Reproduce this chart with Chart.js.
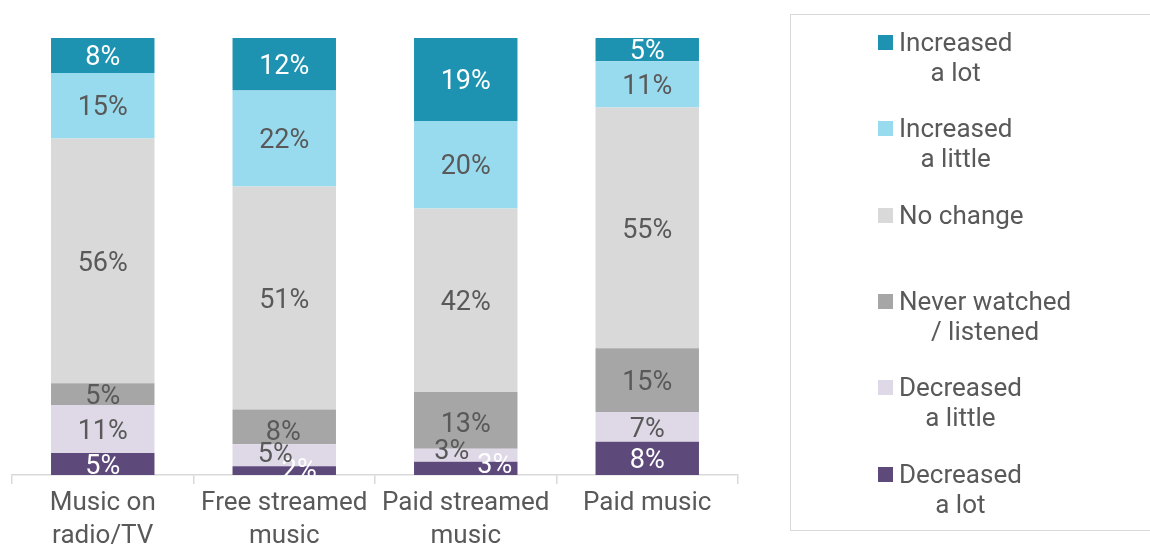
<!DOCTYPE html>
<html>
<head>
<meta charset="utf-8">
<script src="https://cdn.jsdelivr.net/npm/chart.js@4.4.1/dist/chart.umd.min.js"></script>
<style>
    html, body { margin: 0; padding: 0; background: #fff; }
    #wrap { position: relative; width: 1150px; height: 547px; overflow: hidden; }
    #chart { position: absolute; left: 0; top: 0; }
    #legend {
        position: absolute; left: 790px; top: 14px; width: 420px; height: 517px;
        border: 1.5px solid #d9d9d9; box-sizing: border-box;
        font-family: Roboto, sans-serif; font-size: 26px; color: #595959;
    }
    .item { position: absolute; left: 87px; height: 60px; }
    .swatch { position: absolute; left: 0; top: 8px; width: 15px; height: 15px; }
    .text { position: absolute; left: 21px; top: 0; line-height: 30px; text-align: center; white-space: nowrap; }
</style>
</head>
<body>
<div id="wrap">
    <canvas id="chart" width="1150" height="556"></canvas>
    <div id="legend"></div>
</div>
<script>
// ==================== DATA ====================
const categories = [['Music on', 'radio/TV'], ['Free streamed', 'music'], ['Paid streamed', 'music'], 'Paid music'];

// stacked bottom to top
const decreasedLot    = [5, 2, 3, 7.6];
const decreasedLittle = [11, 5, 3, 6.8];
const neverWatched    = [5, 8, 13, 14.6];
const noChange        = [56, 51, 42, 55.1];
const increasedLittle = [15, 22, 20, 10.6];
const increasedLot    = [8, 12, 19, 5.3];

const seriesNames = [
    ['Decreased', 'a lot'],
    ['Decreased', 'a little'],
    ['Never watched', '/ listened'],
    ['No change'],
    ['Increased', 'a little'],
    ['Increased', 'a lot']
];

// ==================== STYLE ====================
const FONT = 'Roboto, sans-serif';
const TEXT_GRAY = '#595959';
const colors = ['#5d4a7b', '#dfd8e7', '#a6a6a6', '#d9d9d9', '#99dbee', '#1e93b1'];
const labelColors = ['#ffffff', TEXT_GRAY, TEXT_GRAY, TEXT_GRAY, TEXT_GRAY, '#ffffff'];

// nudges for labels that sit on thin segments [dataset][bar] = [dx, dy]
const labelShifts = {
    0: { 1: [15, -2], 2: [29, -5] },
    1: { 1: [-9, -3], 2: [-14, -6] },
    2: { 1: [-1, 3], 2: [0, 2] }
};

// ==================== SEGMENT LABELS ====================
const segmentLabels = {
    id: 'segmentLabels',
    afterDatasetsDraw(chart) {
        const ctx = chart.ctx;
        ctx.save();
        ctx.font = `27px ${FONT}`;
        ctx.textAlign = 'center';
        ctx.textBaseline = 'middle';
        chart.data.datasets.forEach((ds, di) => {
            chart.getDatasetMeta(di).data.forEach((bar, i) => {
                const shift = (labelShifts[di] && labelShifts[di][i]) || [0, 0];
                ctx.fillStyle = labelColors[di];
                // +3 so the glyphs sit on the segment middle like the original
                ctx.fillText(Math.round(ds.data[i]) + '%', bar.x + shift[0], (bar.y + bar.base) / 2 + shift[1] + 3);
            });
        });
        ctx.restore();
    }
};

// ==================== BUILD CHART ====================
const seriesData = [decreasedLot, decreasedLittle, neverWatched, noChange, increasedLittle, increasedLot];

new Chart(document.getElementById('chart').getContext('2d'), {
    type: 'bar',
    data: {
        labels: categories,
        datasets: seriesData.map((values, i) => ({
            label: seriesNames[i].join(' '),
            data: values,
            backgroundColor: colors[i],
            borderWidth: 0,
            barPercentage: 1,
            categoryPercentage: 0.57
        }))
    },
    options: {
        responsive: false,
        animation: false,
        layout: { padding: { left: 12, right: 412, top: 38, bottom: 0 } },
        plugins: {
            legend: { display: false },
            tooltip: { enabled: false }
        },
        scales: {
            x: {
                stacked: true,
                grid: { offset: true, drawOnChartArea: false, tickLength: 9, color: '#d9d9d9', lineWidth: 1.5 },
                border: { display: true, color: '#d9d9d9', width: 1.5 },
                ticks: {
                    color: TEXT_GRAY,
                    font: { family: FONT, size: 26, lineHeight: 1.27 },
                    padding: 3,
                    maxRotation: 0,
                    autoSkip: false
                }
            },
            y: { stacked: true, display: false, min: 0, max: 100 }
        }
    },
    plugins: [segmentLabels]
});

// ==================== HTML LEGEND ====================
const legend = document.getElementById('legend');
for (let i = seriesNames.length - 1; i >= 0; i--) {
    const slot = seriesNames.length - 1 - i;
    const item = document.createElement('div');
    item.className = 'item';
    item.style.top = (12 + slot * 86.3) + 'px';
    item.innerHTML = `<div class="swatch" style="background:${colors[i]}"></div>` +
        `<div class="text">${seriesNames[i].join('<br>')}</div>`;
    legend.appendChild(item);
}
</script>
</body>
</html>
